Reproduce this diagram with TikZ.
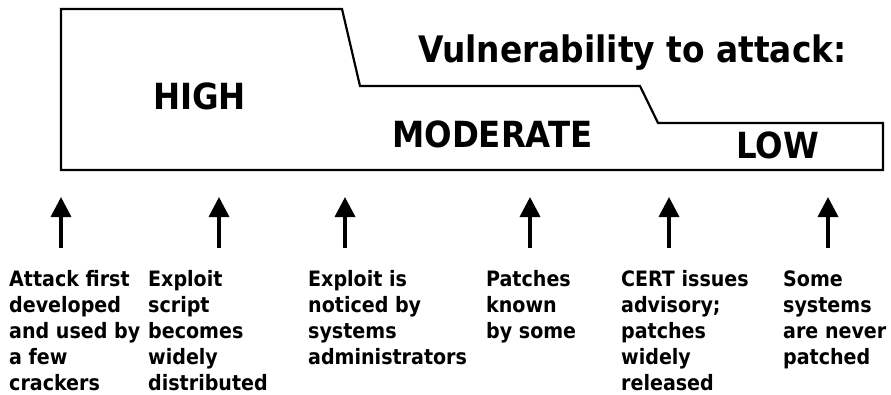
\documentclass[tikz,border=0pt]{standalone}
\usepackage{fontspec}
\setmainfont{DejaVu Sans Condensed}
\usetikzlibrary{arrows.meta}
\tikzset{
  outline/.style={draw=black, line width=2.2pt, line join=miter},
  big/.style={anchor=base west, inner sep=0pt, font=\bfseries\fontsize{36}{40}\selectfont},
  event/.style={anchor=base west, inner sep=0pt, align=left, font=\bfseries\fontsize{21.2}{26}\selectfont},
  uparrow/.style={line width=3.5pt, -{Triangle[width=20pt,length=20pt]}}
}
\begin{document}
\begin{tikzpicture}[x=1pt,y=-1pt]
\useasboundingbox (0,0) rectangle (891,394);
\draw[outline] (61,9) -- (342,9) -- (360,86) -- (640,86) -- (658,123) -- (883,123) -- (883,170) -- (61,170) -- cycle;
\node[big, font=\bfseries\fontsize{36.5}{40}\selectfont] (title) at (418,62) {Vulnerability to attack:};
\node[big] (high) at (153,109) {HIGH};
\node[big] (moderate) at (392,147) {MODERATE};
\node[big] (low) at (736,158) {LOW};
\foreach \i/\x in {1/61,2/219,3/345,4/530,5/669,6/828}{
  \coordinate (b\i) at (\x,248);
  \coordinate (t\i) at (\x,197);
  \draw[uparrow] (b\i) -- (t\i);
}
% anchor base = baseline of the last line; first baseline at y=286, line step 26
\node[event] (e1) at (9,390) {Attack first\\developed\\and used by\\a few\\crackers};
\node[event] (e2) at (148,390) {Exploit\\script\\becomes\\widely\\distributed};
\node[event] (e3) at (308,364) {Exploit is\\noticed by\\systems\\administrators};
\node[event] (e4) at (486,338) {Patches\\known\\by some};
\node[event] (e5) at (621,390) {CERT issues\\advisory;\\patches\\widely\\released};
\node[event] (e6) at (783,364) {Some\\systems\\are never\\patched};
\end{tikzpicture}
\end{document}
